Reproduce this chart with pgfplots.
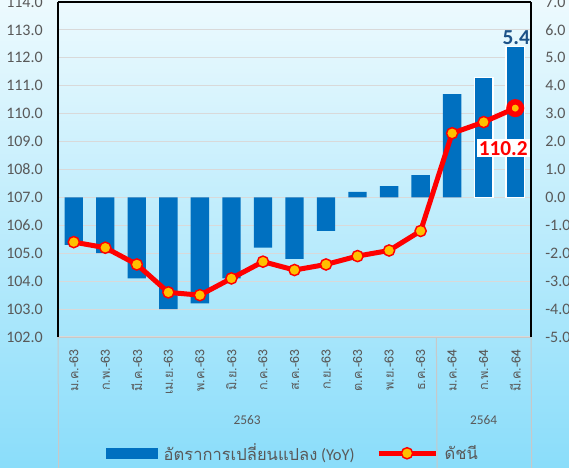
\documentclass[border=0pt]{standalone}
\usepackage{pgfplots}
\pgfplotsset{compat=1.18}
\usepackage{fontspec}
\setmainfont{Carlito}
\newfontfamily\thai[Script=Thai]{Loma}
\definecolor{barblue}{HTML}{0070C0}
\definecolor{mkfill}{HTML}{FFC000}
\definecolor{txtgray}{HTML}{595959}
\definecolor{gridgray}{HTML}{D9D9D9}
\definecolor{sepgray}{HTML}{C8C8C8}
\definecolor{bgtop}{HTML}{EDFAFE}
\definecolor{bgbot}{HTML}{8ADDFA}
\definecolor{lbblue}{HTML}{1C5288}
\pgfplotsset{numfmt/.style={/pgf/number format/fixed, /pgf/number format/fixed zerofill,
  /pgf/number format/precision=1, /pgf/number format/assume math mode=true}}
\begin{document}
\begin{tikzpicture}
\useasboundingbox (0,0) rectangle (426.75pt,351pt);
\shade[top color=bgtop, bottom color=bgbot] (0,0) rectangle (426.75pt,351pt);
% ---- bars: YoY change (right axis)
\begin{axis}[
  at={(43.5pt,98.25pt)}, anchor=south west,
  scale only axis, width=354.75pt, height=251.25pt,
  xmin=-0.5, xmax=14.5, ymin=-5, ymax=7,
  axis x line=none, axis y line*=right,
  y axis line style={black, line width=1.1pt},
  ytick={-5,-4,...,7}, major tick length=0pt,
  ymajorgrids, grid style={gridgray, line width=0.75pt},
  yticklabel style={numfmt, font=\fontsize{12}{14}\selectfont, text=txtgray, anchor=west, inner sep=0pt, xshift=10.5pt},
  clip=false,
]
\addplot[ybar, bar width=13.75pt, bar shift=0pt, fill=barblue, draw=none] coordinates {
(0,-1.7) (1,-2.0) (2,-2.9) (3,-4.0) (4,-3.8) (5,-2.9) (6,-1.8) (7,-2.2)
(8,-1.2) (9,0.2) (10,0.4) (11,0.8) (12,3.7)};
\addplot[ybar, bar width=13.75pt, bar shift=0pt, fill=barblue, draw=white, line width=1pt] coordinates {
(13,4.3) (14,5.4)};
\node[font=\bfseries\fontsize{16}{18}\selectfont, text=lbblue] at (axis cs:14,5.4) [xshift=0.75pt, yshift=6.5pt] {5.4};
\end{axis}
% ---- line: index (left axis)
\begin{axis}[
  at={(43.5pt,98.25pt)}, anchor=south west,
  scale only axis, width=354.75pt, height=251.25pt,
  xmin=-0.5, xmax=14.5, ymin=102, ymax=114,
  axis x line*=bottom, axis y line*=left,
  x axis line style={sepgray, line width=0.75pt},
  y axis line style={black, line width=1.1pt},
  xtick={0,...,14},
  xticklabels={ม.ค.-63, ก.พ.-63, มี.ค.-63, เม.ย.-63, พ.ค.-63, มิ.ย.-63, ก.ค.-63, ส.ค.-63, ก.ย.-63, ต.ค.-63, พ.ย.-63, ธ.ค.-63, ม.ค.-64, ก.พ.-64, มี.ค.-64},
  ytick={102,103,...,114}, major tick length=0pt,
  xticklabel style={font=\thai\fontsize{9.5}{11}\selectfont, text=txtgray, rotate=90, anchor=east, inner sep=0pt},
  xticklabel shift=9pt,
  yticklabel style={numfmt, font=\fontsize{12}{14}\selectfont, text=txtgray, anchor=east, inner sep=0pt, xshift=-11.25pt},
  clip=false,
  legend style={at={(0.497,-0.347)}, anchor=center, legend columns=2, draw=none, fill=none,
    font=\fontsize{12.4}{14}\selectfont, text=txtgray,
    /tikz/every odd column/.append style={column sep=3pt},
    /tikz/every even column/.append style={column sep=14pt}},
]
\addlegendimage{legend image code/.code={\fill[barblue] (0pt,-3.75pt) rectangle (38.25pt,3.75pt);}}
\addlegendentry{{\thai อัตราการเปลี่ยนแปลง} (YoY)}
\addplot[red, line width=3.75pt, mark=*, mark size=4.2pt,
  mark options={fill=mkfill, draw=red, line width=1.1pt},
  legend image code/.code={\draw[red, line width=3.75pt] (0pt,0pt) -- (42.75pt,0pt);
    \draw[red, fill=mkfill, line width=1.1pt] (21.4pt,0pt) circle (4.2pt);}]
 coordinates {
(0,105.4) (1,105.2) (2,104.6) (3,103.6) (4,103.5) (5,104.1) (6,104.7) (7,104.4)
(8,104.6) (9,104.9) (10,105.1) (11,105.8) (12,109.3) (13,109.7) (14,110.2)};
\addlegendentry{{\thai ดัชนี}}
\addplot[forget plot, only marks, mark=*, mark size=4.7pt,
  mark options={fill=mkfill, draw=red, line width=4.1pt}] coordinates {(14,110.2)};
\node[fill=white, text=red, font=\bfseries\fontsize{16}{19}\selectfont, inner sep=1.5pt]
  at (axis cs:14,110.2) [xshift=-9pt, yshift=-30pt] {110.2};
\draw[black, line width=1.1pt] (rel axis cs:0,1) -- (rel axis cs:1,1);
\draw[sepgray, line width=0.75pt] (axis cs:-0.5,102) -- ++(0,-68.25pt);
\draw[sepgray, line width=0.75pt] (axis cs:11.5,102) -- ++(0,-68.25pt);
\draw[sepgray, line width=0.75pt] (axis cs:14.5,102) -- ++(0,-68.25pt);
\node[font=\fontsize{10}{12}\selectfont, text=txtgray] at (axis cs:5.5,102) [yshift=-62pt] {2563};
\node[font=\fontsize{10}{12}\selectfont, text=txtgray] at (axis cs:13,102) [yshift=-62pt] {2564};
\end{axis}
\end{tikzpicture}
\end{document}
